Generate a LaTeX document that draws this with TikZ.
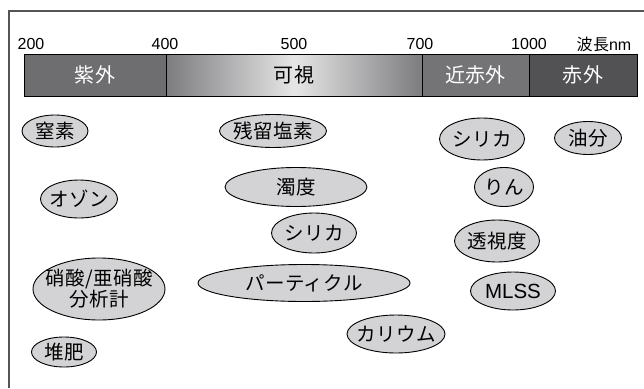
\documentclass[tikz,border=0pt]{standalone}
\usepackage{fontspec}
\setmainfont{Noto Sans CJK JP}[LetterSpace=2]
\newfontfamily\latinfont{Liberation Sans}
\usetikzlibrary{shapes.geometric}
\definecolor{ellfill}{HTML}{D3D3D5}
\definecolor{uvcol}{HTML}{6E6E71}
\definecolor{nircol}{HTML}{747477}
\definecolor{ircol}{HTML}{525255}
\definecolor{visdark}{HTML}{7C7C7F}
\definecolor{vislight}{HTML}{E6E6E6}
\definecolor{framecol}{HTML}{555555}
\tikzset{
  jp/.style={font=\fontsize{19.5}{23}\selectfont},
  barseg/.style={rectangle, draw=black, line width=0.8pt, minimum height=42, inner sep=0pt, text=white, font=\fontsize{20}{24}\selectfont},
  scalelbl/.style={font=\latinfont\fontsize{16}{19}\selectfont, inner sep=0pt},
  ell/.style={ellipse, draw=black, line width=0.9pt, fill=ellfill, inner sep=0pt},
  etxt/.style={inner sep=0pt, jp, align=center},
}
\begin{document}
\begin{tikzpicture}[x=1pt,y=-1pt]
\useasboundingbox (0,0) rectangle (644,388);
\fill[white] (0,0) rectangle (644,388);
% frame
\coordinate (fbl) at (9,388);
\coordinate (ftl) at (9,11);
\coordinate (ftr) at (644,11);
\draw[framecol, line width=1.2pt] (fbl) -- (ftl) -- (ftr);
% scale labels
\node[scalelbl] (s200) at (31,44) {200};
\node[scalelbl] (s400) at (165,44) {400};
\node[scalelbl] (s500) at (294,44) {500};
\node[scalelbl] (s700) at (420,44) {700};
\node[scalelbl] (s1000) at (529,44) {1000};
\node[inner sep=0pt, font=\fontsize{16}{19}\selectfont] (sunit) at (604,44) {波長\latinfont nm};
% bar
\node[barseg, fill=uvcol, minimum width=142] (uv) at (95,75) {紫外};
\node[barseg, left color=visdark, right color=visdark, middle color=vislight, minimum width=256, text=black] (vis) at (294,75) {可視};
\node[barseg, fill=nircol, minimum width=107] (nir) at (475.5,75) {近赤外};
\node[barseg, fill=ircol, minimum width=108] (ir) at (583,75) {赤外};
% ellipses
\node[ell, minimum width=66, minimum height=32] (n1) at (55,131) {};
\node[etxt] (t1) at (n1) {窒素};
\node[ell, minimum width=77, minimum height=38] (n2) at (79,199) {};
\node[etxt] (t2) at (n2) {オゾン};
\node[ell, minimum width=132, minimum height=62] (n3) at (99,289) {};
\node[etxt] (t3) at (n3) {硝酸/亜硝酸\\[-2pt]分析計};
\node[ell, minimum width=65, minimum height=30] (n4) at (64,352) {};
\node[etxt] (t4) at (n4) {堆肥};
\node[ell, minimum width=107, minimum height=33] (n5) at (273,131) {};
\node[etxt] (t5) at (n5) {残留塩素};
\node[ell, minimum width=142, minimum height=39] (n6) at (296,187) {};
\node[etxt] (t6) at (n6) {濁度};
\node[ell, minimum width=85, minimum height=40] (n7) at (314,233) {};
\node[etxt] (t7) at (n7) {シリカ};
\node[ell, minimum width=212, minimum height=37] (n8) at (304,283) {};
\node[etxt] (t8) at (n8) {パーティクル};
\node[ell, minimum width=98, minimum height=38] (n9) at (396,334) {};
\node[etxt] (t9) at (n9) {カリウム};
\node[ell, minimum width=85, minimum height=42] (n10) at (482,139) {};
\node[etxt] (t10) at (n10) {シリカ};
\node[ell, minimum width=67, minimum height=33] (n11) at (588,138) {};
\node[etxt] (t11) at (n11) {油分};
\node[ell, minimum width=59, minimum height=39] (n12) at (504,187) {};
\node[etxt] (t12) at (n12) {りん};
\node[ell, minimum width=85, minimum height=42] (n13) at (497,241) {};
\node[etxt] (t13) at (n13) {透視度};
\node[ell, minimum width=85, minimum height=38] (n14) at (513,291) {};
\node[etxt, font=\latinfont\fontsize{20.5}{24}\selectfont] (t14) at (n14) {MLSS};
\end{tikzpicture}
\end{document}
